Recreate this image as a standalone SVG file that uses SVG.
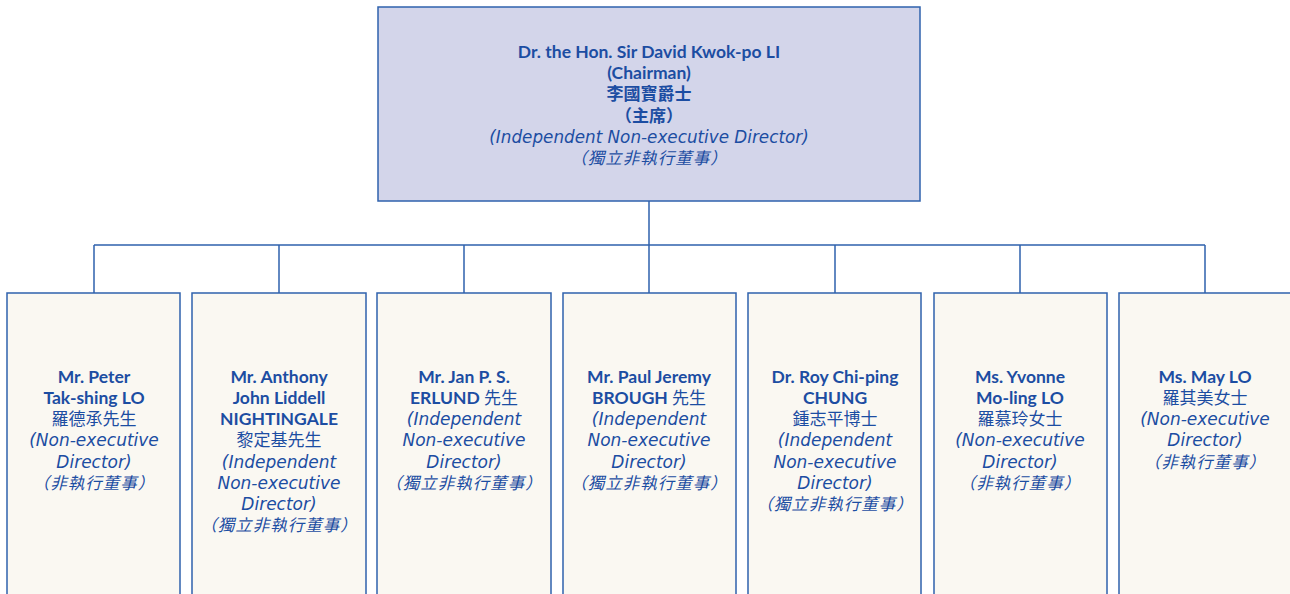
<svg xmlns="http://www.w3.org/2000/svg" width="1290" height="594" viewBox="0 0 1290 594">
<style>
.box{stroke:#2f62ad;stroke-width:1.5}
.top{fill:#d3d5ea}
.bot{fill:#faf8f2}
text{text-anchor:middle;fill:#1c4da2}
.b{font-family:Lato,"Noto Sans CJK TC",sans-serif;font-weight:700;font-size:17.5px}
.c{font-family:"Noto Sans CJK TC",sans-serif;font-weight:400;font-size:17px}
.cb{font-family:"Noto Sans CJK TC",sans-serif;font-weight:700;font-size:17px}
.i{font-family:"DejaVu Sans","Noto Sans CJK TC",sans-serif;font-style:italic;font-weight:400;font-size:17px}
#chairman .i{font-size:16.8px}
.ci{font-family:"Noto Sans CJK TC",sans-serif;font-style:italic;font-weight:400;font-size:16.5px;letter-spacing:1px}
.ln{stroke:#2f62ad;stroke-width:1.5;fill:none}
</style>
<g id="connectors">
<path class="ln" d="M649 201V245M94 245H1205M94 245V293M279 245V293M464 245V293M649 245V293M835 245V293M1020 245V293M1205 245V293"/>
</g>
<g id="chairman">
<rect class="box top" x="378" y="7" width="542" height="194"/>
<text class="b" x="649" y="58">Dr. the Hon. Sir David Kwok-po LI</text>
<text class="b" x="649" y="79">(Chairman)</text>
<text class="cb" x="649" y="100">李國寶爵士</text>
<text class="cb" x="649" y="122">（主席）</text>
<text class="i" x="649" y="143">(Independent Non-executive Director)</text>
<text class="ci" x="649" y="164">（獨立非執行董事）</text>
</g>
<g id="n1">
<rect class="box bot" x="7" y="293" width="173" height="310"/>
<text class="b" x="94" y="383">Mr. Peter</text>
<text class="b" x="94" y="404">Tak-shing LO</text>
<text class="c" x="94" y="425">羅德承先生</text>
<text class="i" x="94" y="446">(Non-executive</text>
<text class="i" x="94" y="468">Director)</text>
<text class="ci" x="94" y="489">（非執行董事）</text>
</g>
<g id="n2">
<rect class="box bot" x="192" y="293" width="174" height="310"/>
<text class="b" x="279" y="383">Mr. Anthony</text>
<text class="b" x="279" y="404">John Liddell</text>
<text class="b" x="279" y="425">NIGHTINGALE</text>
<text class="c" x="279" y="446">黎定基先生</text>
<text class="i" x="279" y="468">(Independent</text>
<text class="i" x="279" y="489">Non-executive</text>
<text class="i" x="279" y="510">Director)</text>
<text class="ci" x="279" y="531">（獨立非執行董事）</text>
</g>
<g id="n3">
<rect class="box bot" x="377" y="293" width="174" height="310"/>
<text class="b" x="464" y="383">Mr. Jan P. S.</text>
<text class="b" x="464" y="404">ERLUND <tspan class="c">先生</tspan></text>
<text class="i" x="464" y="425">(Independent</text>
<text class="i" x="464" y="446">Non-executive</text>
<text class="i" x="464" y="468">Director)</text>
<text class="ci" x="464" y="489">（獨立非執行董事）</text>
</g>
<g id="n4">
<rect class="box bot" x="563" y="293" width="173" height="310"/>
<text class="b" x="649" y="383">Mr. Paul Jeremy</text>
<text class="b" x="649" y="404">BROUGH <tspan class="c">先生</tspan></text>
<text class="i" x="649" y="425">(Independent</text>
<text class="i" x="649" y="446">Non-executive</text>
<text class="i" x="649" y="468">Director)</text>
<text class="ci" x="649" y="489">（獨立非執行董事）</text>
</g>
<g id="n5">
<rect class="box bot" x="748" y="293" width="173" height="310"/>
<text class="b" x="835" y="383">Dr. Roy Chi-ping</text>
<text class="b" x="835" y="404">CHUNG</text>
<text class="c" x="835" y="425">鍾志平博士</text>
<text class="i" x="835" y="446">(Independent</text>
<text class="i" x="835" y="468">Non-executive</text>
<text class="i" x="835" y="489">Director)</text>
<text class="ci" x="835" y="510">（獨立非執行董事）</text>
</g>
<g id="n6">
<rect class="box bot" x="934" y="293" width="173" height="310"/>
<text class="b" x="1020" y="383">Ms. Yvonne</text>
<text class="b" x="1020" y="404">Mo-ling LO</text>
<text class="c" x="1020" y="425">羅慕玲女士</text>
<text class="i" x="1020" y="446">(Non-executive</text>
<text class="i" x="1020" y="468">Director)</text>
<text class="ci" x="1020" y="489">（非執行董事）</text>
</g>
<g id="n7">
<rect class="box bot" x="1119" y="293" width="180" height="310"/>
<text class="b" x="1205" y="383">Ms. May LO</text>
<text class="c" x="1205" y="404">羅其美女士</text>
<text class="i" x="1205" y="425">(Non-executive</text>
<text class="i" x="1205" y="446">Director)</text>
<text class="ci" x="1205" y="468">（非執行董事）</text>
</g>
</svg>
